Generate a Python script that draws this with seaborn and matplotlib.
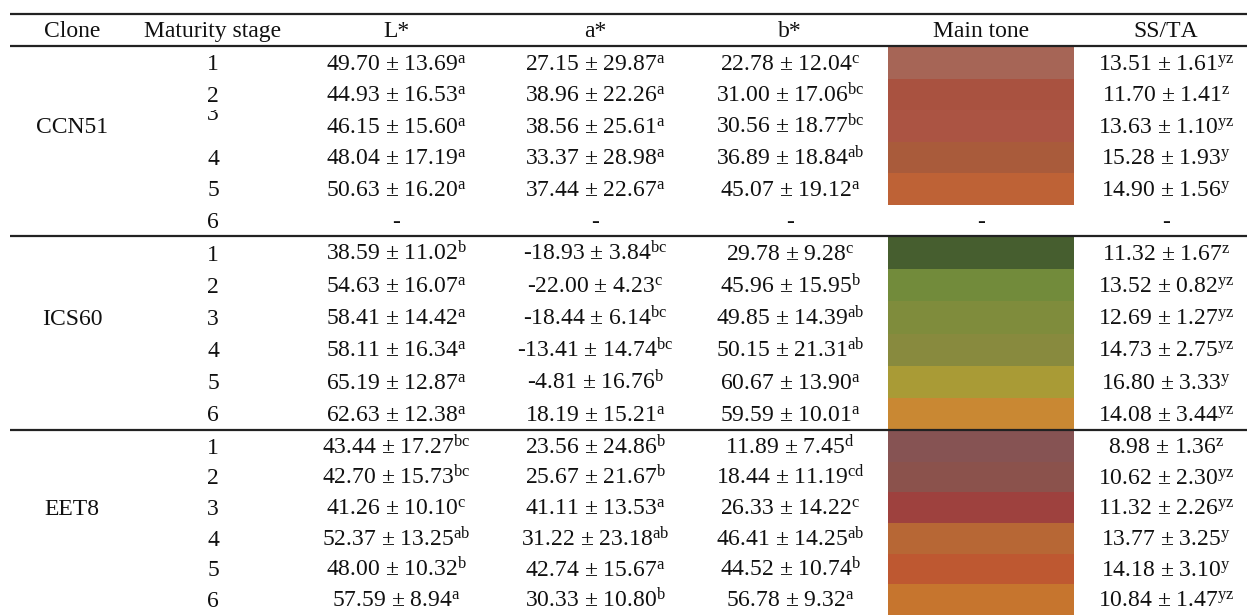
import matplotlib
matplotlib.use("Agg")
import matplotlib.pyplot as plt
from matplotlib.colors import ListedColormap
from matplotlib.transforms import Bbox
import numpy as np
import pandas as pd
import seaborn as sns

# ---------------------------------------------------------------- data
clones = ["CCN51", "ICS60", "EET8"]
stages = [1, 2, 3, 4, 5, 6]
headers = ["Clone", "Maturity stage", "L*", "a*", "b*", "Main tone", "SS/TA"]

# CIE L*a*b* colour coordinates and SS/TA ratio: mean, SD, significance letters
# (None = stage not sampled)
L_mean = [49.70, 44.93, 46.15, 48.04, 50.63, None,
          38.59, 54.63, 58.41, 58.11, 65.19, 62.63,
          43.44, 42.70, 41.26, 52.37, 48.00, 57.59]
L_sd = [13.69, 16.53, 15.60, 17.19, 16.20, None,
        11.02, 16.07, 14.42, 16.34, 12.87, 12.38,
        17.27, 15.73, 10.10, 13.25, 10.32, 8.94]
L_sig = ["a", "a", "a", "a", "a", None,
         "b", "a", "a", "a", "a", "a",
         "bc", "bc", "c", "ab", "b", "a"]

a_mean = [27.15, 38.96, 38.56, 33.37, 37.44, None,
          -18.93, -22.00, -18.44, -13.41, -4.81, 18.19,
          23.56, 25.67, 41.11, 31.22, 42.74, 30.33]
a_sd = [29.87, 22.26, 25.61, 28.98, 22.67, None,
        3.84, 4.23, 6.14, 14.74, 16.76, 15.21,
        24.86, 21.67, 13.53, 23.18, 15.67, 10.80]
a_sig = ["a", "a", "a", "a", "a", None,
         "bc", "c", "bc", "bc", "b", "a",
         "b", "b", "a", "ab", "a", "b"]

b_mean = [22.78, 31.00, 30.56, 36.89, 45.07, None,
          29.78, 45.96, 49.85, 50.15, 60.67, 59.59,
          11.89, 18.44, 26.33, 46.41, 44.52, 56.78]
b_sd = [12.04, 17.06, 18.77, 18.84, 19.12, None,
        9.28, 15.95, 14.39, 21.31, 13.90, 10.01,
        7.45, 11.19, 14.22, 14.25, 10.74, 9.32]
b_sig = ["c", "bc", "bc", "ab", "a", None,
         "c", "b", "ab", "ab", "a", "a",
         "d", "cd", "c", "ab", "b", "a"]

ssta_mean = [13.51, 11.70, 13.63, 15.28, 14.90, None,
             11.32, 13.52, 12.69, 14.73, 16.80, 14.08,
             8.98, 10.62, 11.32, 13.77, 14.18, 10.84]
ssta_sd = [1.61, 1.41, 1.10, 1.93, 1.56, None,
           1.67, 0.82, 1.27, 2.75, 3.33, 3.44,
           1.36, 2.30, 2.26, 3.25, 3.10, 1.47]
ssta_sig = ["yz", "z", "yz", "y", "y", None,
            "z", "yz", "yz", "yz", "y", "yz",
            "z", "yz", "yz", "y", "y", "yz"]

main_tone = ["#A66556", "#A95240", "#AB5443", "#A95B3B", "#BE6236", None,
             "#465E2F", "#728B3B", "#7F8C3C", "#888A3E", "#A99B36", "#C98833",
             "#865353", "#8B524C", "#9E413E", "#B76735", "#BE5831", "#C6752E"]

table = pd.DataFrame({
    "clone": np.repeat(clones, len(stages)),
    "stage": stages * len(clones),
    "L_mean": L_mean, "L_sd": L_sd, "L_sig": L_sig,
    "a_mean": a_mean, "a_sd": a_sd, "a_sig": a_sig,
    "b_mean": b_mean, "b_sd": b_sd, "b_sig": b_sig,
    "ssta_mean": ssta_mean, "ssta_sd": ssta_sd, "ssta_sig": ssta_sig,
    "tone": main_tone,
})

# ---------------------------------------------------------------- style
sns.set_theme(style="white")
plt.rcParams["font.family"] = ["Liberation Serif", "DejaVu Serif"]
plt.rcParams["mathtext.fontset"] = "custom"
plt.rcParams["mathtext.rm"] = "Liberation Serif"
plt.rcParams["mathtext.it"] = "Liberation Serif"
plt.rcParams["mathtext.bf"] = "Liberation Serif:bold"
plt.rcParams["text.kerning_factor"] = 6

W, H = 1247, 615
FS = 17
INK = "#111111"
RULE = "#222222"

col_x = {"clone": 72, "stage": 213, "L": 396, "a": 595, "b": 790,
         "tone": 981, "ssta": 1166}
tone_x0, tone_x1 = 888, 1074
sections = [(47, 236), (237, 430), (431, 615)]
header_base = 37
rules = [14, 46, 236, 430]

fig = plt.figure(figsize=(W / 100, H / 100), dpi=100)

# main-tone swatches: one heatmap per clone block
for s, clone in enumerate(clones):
    top, bot = sections[s]
    block = table[table["clone"] == clone]
    colours = list(block["tone"])
    ax_t = fig.add_axes([tone_x0 / W, 1 - bot / H,
                         (tone_x1 - tone_x0) / W, (bot - top) / H])
    codes = pd.DataFrame({"tone": np.arange(len(colours), dtype=float)},
                         index=block["stage"])
    mask = pd.DataFrame({"tone": [c is None for c in colours]},
                        index=block["stage"])
    cmap = ListedColormap([c if c is not None else "#ffffff" for c in colours])
    sns.heatmap(codes, mask=mask, cmap=cmap, vmin=-0.5,
                vmax=len(colours) - 0.5, cbar=False, linewidths=0,
                xticklabels=False, yticklabels=False, ax=ax_t)
    ax_t.set_axis_off()

# text layer on top
ax = fig.add_axes([0, 0, 1, 1])
ax.set_xlim(0, W)
ax.set_ylim(H, 0)
ax.set_axis_off()
ax.patch.set_alpha(0)

for y in rules:
    ax.plot([10, W], [y, y], color=RULE, lw=1.6, solid_capstyle="butt")

for key, label in zip(col_x, headers):
    ax.text(col_x[key], header_base, label, ha="center", va="baseline",
            fontsize=FS, color=INK)


def fmt(m, sd, sig):
    if m is None or pd.isna(m):
        return "-"
    return f"{m:.2f} ± {sd:.2f}" + r"$^{\mathrm{" + sig + "}}$"


for s, clone in enumerate(clones):
    top, bot = sections[s]
    rh = (bot - top) / len(stages)
    block = table[table["clone"] == clone].reset_index(drop=True)
    for i, row in block.iterrows():
        yc = top + (i + 0.5) * rh
        base = yc + 7.5
        if clone == "CCN51" and row["stage"] == 3:
            # stage "3" sits just under the "2", only its lower bowl showing
            t = ax.text(col_x["stage"], 120, str(row["stage"]), ha="center",
                        va="baseline", fontsize=FS, color=INK)
            t.set_clip_on(True)
            t.set_clip_box(Bbox.from_extents(190, H - 125, 240, H - 110))
        else:
            ax.text(col_x["stage"], base, str(row["stage"]), ha="center",
                    va="baseline", fontsize=FS, color=INK)
        for key in ["L", "a", "b", "ssta"]:
            ax.text(col_x[key], base,
                    fmt(row[key + "_mean"], row[key + "_sd"], row[key + "_sig"]),
                    ha="center", va="baseline", fontsize=FS, color=INK)
        if row["tone"] is None:
            ax.text(col_x["tone"], base, "-", ha="center", va="baseline",
                    fontsize=FS, color=INK)
    ax.text(col_x["clone"], top + 2.5 * rh + 7.5, clone, ha="center",
            va="baseline", fontsize=FS, color=INK)

fig.savefig("out.png", dpi=100, facecolor="white")
